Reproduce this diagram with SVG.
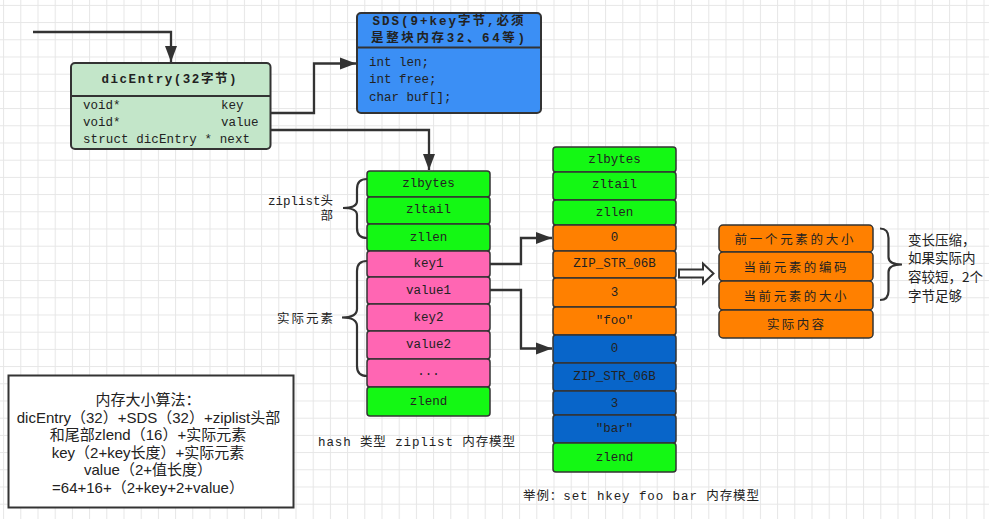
<svg xmlns="http://www.w3.org/2000/svg" width="989" height="519" viewBox="0 0 989 519">
<defs>
<pattern id="grid" width="17.2" height="17.2" patternUnits="userSpaceOnUse" x="3.1" y="4.9">
<path d="M0,0.5 H17.2 M0.5,0 V17.2" stroke="#e6e6e6" stroke-width="1" fill="none"/>
</pattern>
<marker id="arr" markerUnits="userSpaceOnUse" markerWidth="17" markerHeight="13" refX="16" refY="6.5" orient="auto" viewBox="0 0 17 13">
<path d="M0,0.5 L16,6.5 L0,12.5 z" fill="#333"/>
</marker>
<style>
.mono{font-family:"Liberation Mono","Noto Sans CJK SC",monospace;font-size:12.5px;fill:#222;}
.bold{font-weight:bold;}
.c{text-anchor:middle;dominant-baseline:central;}
.l{dominant-baseline:central;}
.cjk{font-family:"Noto Sans CJK SC","Liberation Sans",sans-serif;font-size:12.5px;fill:#222;}
.sans{font-family:"Liberation Sans","Noto Sans CJK SC",sans-serif;font-size:15px;fill:#222;}
.side{font-family:"Noto Sans CJK SC","Liberation Sans",sans-serif;font-size:13.5px;fill:#222;}
.box{stroke:#333;stroke-width:1.5;}
.green{fill:#14f814;}
.pink{fill:#ff66b3;}
.orange{fill:#ff8000;}
.blue{fill:#0865c9;}
.conn{fill:none;stroke:#333;stroke-width:2.3;}
.brace{fill:none;stroke:#333;stroke-width:2.2;}
</style>
</defs>
<rect x="0" y="0" width="989" height="519" fill="#ffffff"/>
<rect x="0" y="0" width="989" height="519" fill="url(#grid)"/>

<g id="dicEntry">
<rect x="71" y="63" width="199.5" height="86" rx="4" fill="#c3e6c9" stroke="#333" stroke-width="2"/>
<line x1="71" y1="96" x2="270.5" y2="96" stroke="#333" stroke-width="2"/>
<text class="mono bold c" x="169" y="80" font-size="13.5" textLength="135" lengthAdjust="spacing">dicEntry(32字节)</text>
<text class="mono l" x="83" y="106">void*</text>
<text class="mono l" x="221" y="106">key</text>
<text class="mono l" x="83" y="122.7">void*</text>
<text class="mono l" x="221" y="122.7">value</text>
<text class="mono l" x="83" y="140" textLength="167" lengthAdjust="spacing">struct dicEntry * next</text>
</g>

<g id="sds">
<rect x="357" y="13" width="184" height="100" rx="4" fill="#3b8ff5" stroke="#333" stroke-width="2"/>
<line x1="357" y1="47.5" x2="541" y2="47.5" stroke="#333" stroke-width="2"/>
<text class="mono bold c" x="448" y="21.5" font-size="13" textLength="151" lengthAdjust="spacing">SDS(9+key字节,必须</text>
<text class="mono bold c" x="448" y="38.5" font-size="13" textLength="154" lengthAdjust="spacing">是整块内存32、64等)</text>
<text class="mono l" x="369" y="63">int len;</text>
<text class="mono l" x="369" y="80">int free;</text>
<text class="mono l" x="369" y="97.5">char buf[];</text>
</g>

<g id="ziplist-hash">
<rect class="box green" x="367" y="171" width="123" height="26" rx="3"/>
<text class="mono c" x="428.5" y="184">zlbytes</text>
<rect class="box green" x="367" y="197" width="123" height="27" rx="3"/>
<text class="mono c" x="428.5" y="210">zltail</text>
<rect class="box green" x="367" y="224" width="123" height="27" rx="3"/>
<text class="mono c" x="428.5" y="237.5">zllen</text>
<rect class="box pink" x="367" y="251" width="123" height="26" rx="3"/>
<text class="mono c" x="428.5" y="264">key1</text>
<rect class="box pink" x="367" y="277" width="123" height="27" rx="3"/>
<text class="mono c" x="428.5" y="290.5">value1</text>
<rect class="box pink" x="367" y="304" width="123" height="27" rx="3"/>
<text class="mono c" x="428.5" y="317.5">key2</text>
<rect class="box pink" x="367" y="331" width="123" height="28" rx="3"/>
<text class="mono c" x="428.5" y="344.5">value2</text>
<rect class="box pink" x="367" y="359" width="123" height="28" rx="3"/>
<text class="mono c" x="428.5" y="372">...</text>
<rect class="box green" x="367" y="387" width="123" height="29" rx="3"/>
<text class="mono c" x="428.5" y="401.5">zlend</text>
</g>

<g id="ziplist-example">
<rect class="box green" x="553" y="147" width="123" height="25" rx="3"/>
<text class="mono c" x="614.5" y="160">zlbytes</text>
<rect class="box green" x="553" y="172" width="123" height="28" rx="3"/>
<text class="mono c" x="614.5" y="185">zltail</text>
<rect class="box green" x="553" y="200" width="123" height="25" rx="3"/>
<text class="mono c" x="614.5" y="213">zllen</text>
<rect class="box orange" x="553" y="225" width="123" height="26" rx="3"/>
<text class="mono c" x="614.5" y="237.5">0</text>
<rect class="box orange" x="553" y="251" width="123" height="27" rx="3"/>
<text class="mono c" x="614.5" y="263.5">ZIP_STR_06B</text>
<rect class="box orange" x="553" y="278" width="123" height="29" rx="3"/>
<text class="mono c" x="614.5" y="292.5">3</text>
<rect class="box orange" x="553" y="307" width="123" height="28" rx="3"/>
<text class="mono c" x="614.5" y="321">"foo"</text>
<rect class="box blue" x="553" y="335" width="123" height="28" rx="3"/>
<text class="mono c" x="614.5" y="348.5">0</text>
<rect class="box blue" x="553" y="363" width="123" height="28" rx="3"/>
<text class="mono c" x="614.5" y="377">ZIP_STR_06B</text>
<rect class="box blue" x="553" y="391" width="123" height="24" rx="3"/>
<text class="mono c" x="614.5" y="404">3</text>
<rect class="box blue" x="553" y="415" width="123" height="28" rx="3"/>
<text class="mono c" x="614.5" y="428.5">"bar"</text>
<rect class="box green" x="553" y="443" width="123" height="29" rx="3"/>
<text class="mono c" x="614.5" y="457.5">zlend</text>
</g>

<g id="entry-layout">
<rect class="box orange" x="719" y="225" width="154" height="27" rx="4"/>
<text class="cjk c" x="794" y="238.5" textLength="119" lengthAdjust="spacing">前一个元素的大小</text>
<rect class="box orange" x="719" y="252" width="154" height="29" rx="4"/>
<text class="cjk c" x="795" y="266.5" textLength="103" lengthAdjust="spacing">当前元素的编码</text>
<rect class="box orange" x="719" y="281" width="154" height="29" rx="4"/>
<text class="cjk c" x="795" y="295" textLength="103" lengthAdjust="spacing">当前元素的大小</text>
<rect class="box orange" x="719" y="310" width="154" height="28" rx="4"/>
<text class="cjk c" x="795.5" y="323.5" textLength="57" lengthAdjust="spacing">实际内容</text>
</g>

<g id="hollow-arrow">
<polygon points="679,269.5 703,269.5 703,263.5 713.5,273.5 703,283.5 703,277.5 679,277.5" fill="#ffffff" stroke="#333" stroke-width="2"/>
</g>

<g id="braces">
<path class="brace" d="M367,179 Q357,179 357,189 L357,201 Q357,208 343,208 Q357,208 357,215 L357,228 Q357,238 367,238"/>
<path class="brace" d="M367,261 Q357,261 357,271 L357,309 Q357,317.5 342,317.5 Q357,317.5 357,326 L357,366 Q357,376 367,376"/>
<path class="brace" d="M880,228.5 Q888.5,228.5 888.5,238 L888.5,257 Q888.5,264.5 902,264.5 Q888.5,264.5 888.5,272 L888.5,291 Q888.5,300 880,300"/>
</g>

<g id="labels">
<text class="mono l" x="333" y="201.7" text-anchor="end">ziplist头</text>
<text class="mono l" x="333" y="217.3" text-anchor="end">部</text>
<text class="cjk l" x="277" y="317.5" textLength="56" lengthAdjust="spacing">实际元素</text>
<text class="mono l" x="318" y="443" textLength="197" lengthAdjust="spacing">hash 类型 ziplist 内存模型</text>
<text class="mono l" x="523" y="497" textLength="236" lengthAdjust="spacing">举例：set hkey foo bar 内存模型</text>
<text class="side l" x="908" y="238.5">变长压缩，</text>
<text class="side l" x="908" y="257.2">如果实际内</text>
<text class="side l" x="908" y="275.9">容较短，2个</text>
<text class="side l" x="908" y="294.6">字节足够</text>
</g>

<g id="memory-formula">
<rect x="8.5" y="375.5" width="285" height="132" fill="#ffffff" stroke="#333" stroke-width="2"/>
<text class="sans c" x="148" y="399.5">内存大小算法：</text>
<text class="sans c" x="148.5" y="417">dicEntry（32）+SDS（32）+ziplist头部</text>
<text class="sans c" x="148" y="434.5">和尾部zlend（16）+实际元素</text>
<text class="sans c" x="148" y="452">key（2+key长度）+实际元素</text>
<text class="sans c" x="148" y="469.5">value（2+值长度）</text>
<text class="sans c" x="148" y="487">=64+16+（2+key+2+value）</text>
</g>

<g id="connectors">
<path class="conn" d="M33,32 L171,32 L171,62" marker-end="url(#arr)"/>
<path class="conn" d="M271,113 L314,113 L314,63.5 L356,63.5" marker-end="url(#arr)"/>
<path class="conn" d="M271,130 L429,130 L429,170" marker-end="url(#arr)"/>
<path class="conn" d="M490,264 L521,264 L521,238 L552,238" marker-end="url(#arr)"/>
<path class="conn" d="M490,290 L521,290 L521,348.5 L552,348.5" marker-end="url(#arr)"/>
</g>
</svg>
